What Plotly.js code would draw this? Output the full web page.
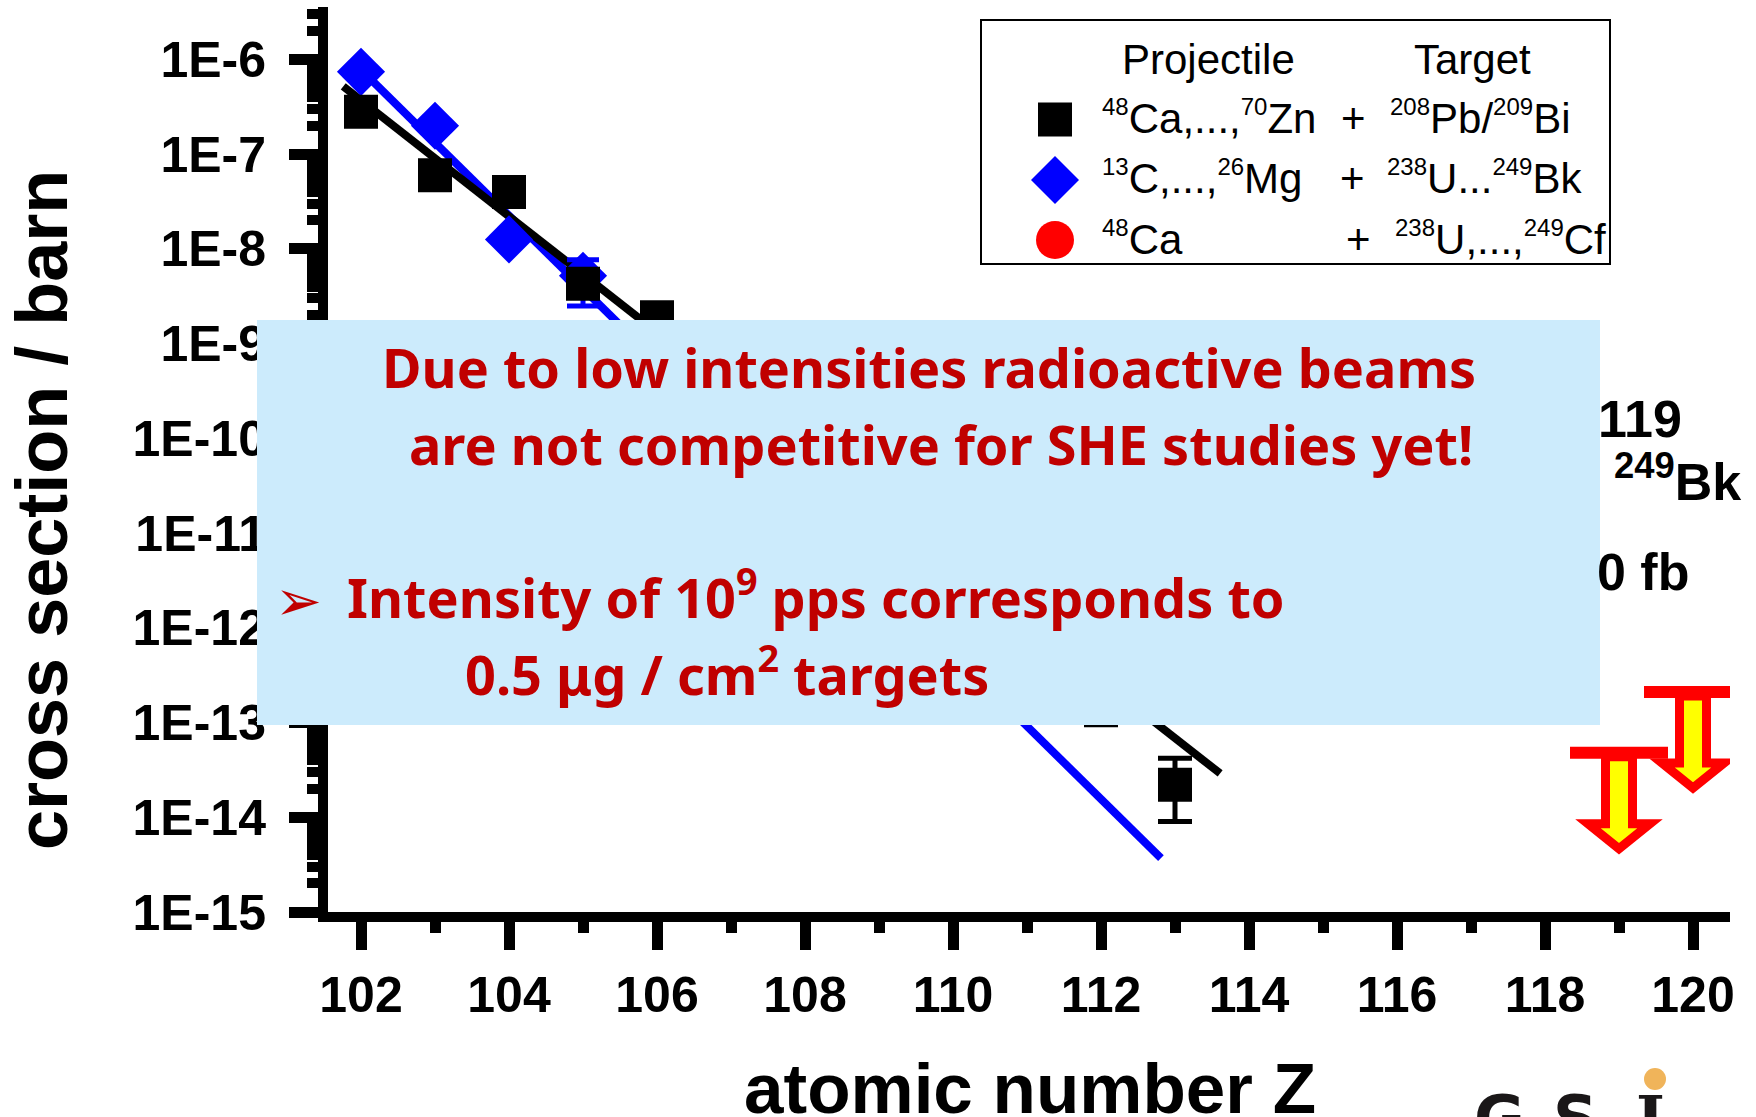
<!DOCTYPE html>
<html>
<head>
<meta charset="utf-8">
<script src="https://cdn.plot.ly/plotly-3.0.1.min.js"></script>
<style>
  html, body { margin: 0; padding: 0; background: #ffffff; }
  #chart { width: 1756px; height: 1117px; }
</style>
</head>
<body>
<div id="chart"></div>
<script>
// ---- data -------------------------------------------------------------
// 48Ca ... 70Zn + 208Pb / 209Bi (cross sections in barn)
const coldZ        = [102, 103, 104, 105, 106, 112, 113];
const coldSigma    = [2.8e-7, 6.0e-8, 4.0e-8, 4.3e-9, 1.9e-9, 5.0e-13, 2.2e-14];
const coldErrPlus  = [NaN, NaN, NaN, 1.5e-9, NaN, 1.1e-12, 2.0e-14];
const coldErrMinus = [NaN, NaN, NaN, 1.2e-9, NaN, 4.05e-13, 1.3e-14];

// 13C ... 26Mg + 238U ... 249Bk
const lightZ        = [102, 103, 104, 105];
const lightSigma    = [7.4e-7, 2.0e-7, 1.26e-8, 5.2e-9];
const lightErrPlus  = [NaN, NaN, NaN, 2.5e-9];
const lightErrMinus = [NaN, NaN, NaN, 2.7e-9];

// exponential fits (straight on the log scale)
const coldFitZ      = [101.76, 113.61];
const coldFitSigma  = [5.2e-7, 2.9e-14];
const lightFitZ     = [102.0, 112.81];
const lightFitSigma = [7.8e-7, 3.7e-15];

// upper limits for the heaviest elements
const limitZ     = [119, 120];
const limitSigma = [4.8e-14, 2.1e-13];

// axis ticks
const yTickVals = [1e-15, 1e-14, 1e-13, 1e-12, 1e-11, 1e-10, 1e-9, 1e-8, 1e-7, 1e-6];
const yTickText = ['1E-15', '1E-14', '1E-13', '1E-12', '1E-11', '1E-10', '1E-9', '1E-8', '1E-7', '1E-6'];
const xTickVals = [102, 104, 106, 108, 110, 112, 114, 116, 118, 120];
const xTickText = ['102', '104', '106', '108', '110', '112', '114', '116', '118', '120'];

// ---- page geometry ------------------------------------------------------
const W = 1756, H = 1117;
const M = { l: 328, r: 26, t: 7, b: 205 };
const PW = W - M.l - M.r, PH = H - M.t - M.b;
const px = x => (x - M.l) / PW;           // page pixel -> paper x
const py = y => (H - M.b - y) / PH;       // page pixel -> paper y

const ARIAL = 'Liberation Sans, Arial, Helvetica, sans-serif';
const NOTO = 'Noto Sans, Tahoma, Verdana, sans-serif';
const DARKRED = '#C00000';

// small mass-number superscript used in the legend
const iso = n => '<sup><span style="font-size:24px">' + n + '</span></sup>';

// text placed by its left/centre/right edge and its baseline
function txt(text, x, baseline, size, opts) {
  opts = opts || {};
  const descent = opts.descent !== undefined ? opts.descent : 0.212;
  return Object.assign({
    xref: 'paper', yref: 'paper',
    x: px(x), y: py(baseline + descent * size),
    xanchor: opts.anchor || 'left', yanchor: 'bottom',
    text: text, showarrow: false, borderpad: 0, borderwidth: 0,
    font: { family: opts.family || ARIAL, size: size, color: opts.color || '#000000',
            weight: opts.weight || 'normal' }
  }, opts.extra || {});
}

// ---- traces -------------------------------------------------------------
const data = [
  { type: 'scatter', mode: 'lines', x: lightFitZ, y: lightFitSigma,
    line: { color: '#0000FF', width: 8 }, hoverinfo: 'skip', showlegend: false },
  { type: 'scatter', mode: 'lines', x: coldFitZ, y: coldFitSigma,
    line: { color: '#000000', width: 8 }, hoverinfo: 'skip', showlegend: false },
  { type: 'scatter', mode: 'markers', x: lightZ, y: lightSigma, showlegend: false,
    name: '13C,...,26Mg + 238U...249Bk',
    marker: { symbol: 'diamond', size: 37, color: '#0000FF' },
    error_y: { type: 'data', symmetric: false, array: lightErrPlus, arrayminus: lightErrMinus,
               color: '#0000FF', thickness: 5, width: 16 } },
  { type: 'scatter', mode: 'markers', x: coldZ, y: coldSigma, showlegend: false,
    name: '48Ca,...,70Zn + 208Pb/209Bi',
    marker: { symbol: 'square', size: 34, color: '#000000' },
    error_y: { type: 'data', symmetric: false, array: coldErrPlus, arrayminus: coldErrMinus,
               color: '#000000', thickness: 5, width: 17 } }
];

// ---- shapes -------------------------------------------------------------
const shapes = [];

// upper-limit arrows, anchored on the data scale, sized in pixels
limitZ.forEach(function (z, i) {
  shapes.push({
    type: 'path', xref: 'x', yref: 'y', xsizemode: 'pixel', ysizemode: 'pixel',
    xanchor: z, yanchor: limitSigma[i],
    path: 'M-13.5,-4 L13.5,-4 L13.5,-71 L31,-71 L0,-96 L-31,-71 L-13.5,-71 Z',
    fillcolor: '#FFFF00', line: { color: '#FF0000', width: 9 }, layer: 'above'
  });
  shapes.push({
    type: 'path', xref: 'x', yref: 'y', xsizemode: 'pixel', ysizemode: 'pixel',
    xanchor: z, yanchor: limitSigma[i],
    path: 'M-49,6 L49,6 L49,-6 L-49,-6 Z',
    fillcolor: '#FF0000', line: { width: 0 }, layer: 'above'
  });
});

// statement panel
shapes.push({ type: 'rect', xref: 'paper', yref: 'paper',
  x0: px(257), x1: px(1600), y0: py(725), y1: py(320),
  fillcolor: '#CCEBFC', line: { width: 0 }, layer: 'above' });

// legend frame and symbols
shapes.push({ type: 'rect', xref: 'paper', yref: 'paper',
  x0: px(981), x1: px(1610), y0: py(264), y1: py(20),
  fillcolor: '#FFFFFF', line: { color: '#000000', width: 2 }, layer: 'above' });
shapes.push({ type: 'rect', xref: 'paper', yref: 'paper', xsizemode: 'pixel', ysizemode: 'pixel',
  xanchor: px(1055), yanchor: py(119.5), x0: -17, x1: 17, y0: -17, y1: 17,
  fillcolor: '#000000', line: { width: 0 }, layer: 'above' });
shapes.push({ type: 'path', xref: 'paper', yref: 'paper', xsizemode: 'pixel', ysizemode: 'pixel',
  xanchor: px(1055), yanchor: py(180), path: 'M0,24 L24,0 L0,-24 L-24,0 Z',
  fillcolor: '#0000FF', line: { width: 0 }, layer: 'above' });
shapes.push({ type: 'circle', xref: 'paper', yref: 'paper', xsizemode: 'pixel', ysizemode: 'pixel',
  xanchor: px(1055), yanchor: py(240), x0: -19, x1: 19, y0: -19, y1: 19,
  fillcolor: '#FF0000', line: { width: 0 }, layer: 'above' });

// logo dot
shapes.push({ type: 'circle', xref: 'paper', yref: 'paper', xsizemode: 'pixel', ysizemode: 'pixel',
  xanchor: px(1655), yanchor: py(1079), x0: -11, x1: 11, y0: -11, y1: 11,
  fillcolor: '#F0B45A', line: { width: 0 }, layer: 'above' });

// ---- annotations --------------------------------------------------------
const annotations = [
  // axis titles
  { xref: 'paper', yref: 'paper', x: px(42), y: py(510), xanchor: 'center', yanchor: 'middle',
    text: 'cross section / barn', textangle: -90, showarrow: false, borderpad: 0, borderwidth: 0,
    font: { family: ARIAL, size: 72, weight: 'bold', color: '#000000' } },
  txt('atomic number Z', 1030, 1113, 71, { anchor: 'center', weight: 'bold' }),

  // legend text
  txt('Projectile', 1122, 74, 42),
  txt('Target', 1414, 74, 42),
  txt(iso(48) + 'Ca,...,' + iso(70) + 'Zn', 1102, 133, 42),
  txt('+', 1353, 133, 42, { anchor: 'center' }),
  txt(iso(208) + 'Pb/' + iso(209) + 'Bi', 1390, 133, 42),
  txt(iso(13) + 'C,...,' + iso(26) + 'Mg', 1102, 193, 42),
  txt('+', 1352, 193, 42, { anchor: 'center' }),
  txt(iso(238) + 'U...' + iso(249) + 'Bk', 1387, 193, 42),
  txt(iso(48) + 'Ca', 1102, 254, 42),
  txt('+', 1358, 254, 42, { anchor: 'center' }),
  txt(iso(238) + 'U,...,' + iso(249) + 'Cf', 1395, 254, 42),

  // statement
  txt('Due to low intensities radioactive beams', 382, 388, 54,
      { family: NOTO, weight: 'bold', color: DARKRED, descent: 0.293 }),
  txt('are not competitive for SHE studies yet!', 409, 465, 54,
      { family: NOTO, weight: 'bold', color: DARKRED, descent: 0.293 }),
  { xref: 'paper', yref: 'paper', x: px(298), y: py(600), xanchor: 'center', yanchor: 'middle',
    text: '\u27A2', showarrow: false, borderpad: 0, borderwidth: 0,
    font: { family: 'DejaVu Sans, sans-serif', size: 56, color: DARKRED } },
  txt('Intensity of 10<sup>9</sup> pps corresponds to', 347, 618, 54,
      { family: NOTO, weight: 'bold', color: DARKRED, descent: 0.293 }),
  txt('0.5 \u03BCg / cm<sup>2</sup> targets', 465, 695, 54,
      { family: NOTO, weight: 'bold', color: DARKRED, descent: 0.293 }),

  // reaction note at the right edge
  txt('119', 1682, 437, 52, { anchor: 'right', weight: 'bold' }),
  txt('<sup>249</sup>Bk', 1614, 500, 52, { weight: 'bold' }),
  txt('0 fb', 1597, 590, 52, { weight: 'bold' }),

  // logo lettering
  { xref: 'paper', yref: 'paper', x: px(1499), y: py(1082), xanchor: 'center', yanchor: 'top',
    text: 'G', showarrow: false, borderpad: 0, borderwidth: 0,
    font: { family: 'DejaVu Sans, sans-serif', size: 62, weight: 'bold', color: '#1A1718' } },
  { xref: 'paper', yref: 'paper', x: px(1575), y: py(1082), xanchor: 'center', yanchor: 'top',
    text: 'S', showarrow: false, borderpad: 0, borderwidth: 0,
    font: { family: 'DejaVu Sans, sans-serif', size: 62, weight: 'bold', color: '#1A1718' } },
  { xref: 'paper', yref: 'paper', x: px(1650), y: py(1082), xanchor: 'center', yanchor: 'top',
    text: 'I', showarrow: false, borderpad: 0, borderwidth: 0,
    font: { family: 'DejaVu Serif, serif', size: 62, weight: 'bold', color: '#1A1718' } }
];

// ---- layout -------------------------------------------------------------
const tickFont = { family: ARIAL, size: 50, weight: 'bold', color: '#000000' };

const layout = {
  width: W, height: H,
  margin: M,
  paper_bgcolor: '#FFFFFF', plot_bgcolor: '#FFFFFF',
  showlegend: false,
  hovermode: false,
  xaxis: {
    range: [101.554, 120.5],
    tickmode: 'array', tickvals: xTickVals, ticktext: xTickText,
    ticks: 'outside', ticklen: 28, tickwidth: 11, tickcolor: '#000000',
    minor: { ticks: 'outside', ticklen: 11, tickwidth: 11, tickcolor: '#000000', dtick: 1, tick0: 102, showgrid: false },
    showline: true, linewidth: 10, linecolor: '#000000',
    showgrid: false, zeroline: false,
    tickfont: tickFont, ticklabelstandoff: 2
  },
  yaxis: {
    type: 'log', range: [-15.0, -5.446],
    tickmode: 'array', tickvals: yTickVals, ticktext: yTickText,
    ticks: 'outside', ticklen: 29, tickwidth: 11, tickcolor: '#000000',
    minor: { ticks: 'outside', ticklen: 11, tickwidth: 10, tickcolor: '#000000', dtick: 'D1', showgrid: false },
    showline: true, linewidth: 10, linecolor: '#000000',
    showgrid: false, zeroline: false,
    tickfont: tickFont, ticklabelstandoff: 13
  },
  shapes: shapes,
  annotations: annotations
};

Plotly.newPlot('chart', data, layout, { staticPlot: true, displayModeBar: false });
</script>
</body>
</html>
